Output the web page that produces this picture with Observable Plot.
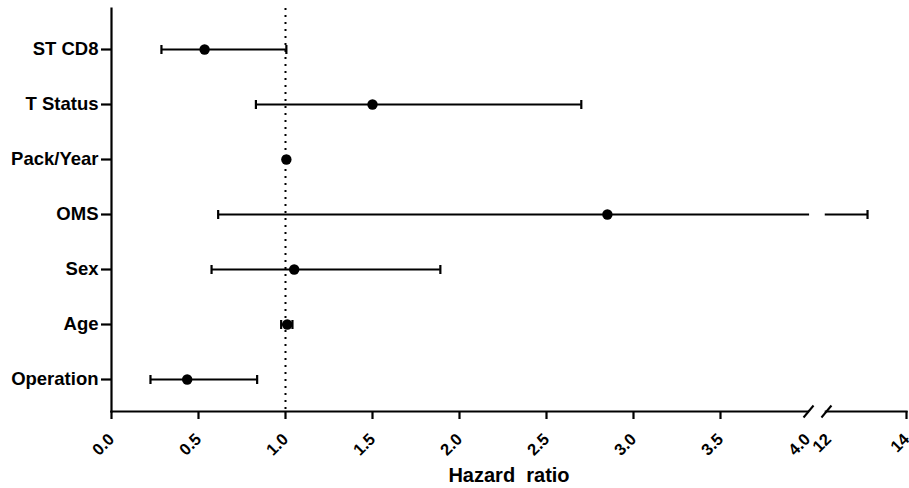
<!DOCTYPE html>
<html><head><meta charset="utf-8">
<script src="https://cdn.jsdelivr.net/npm/d3@7"></script>
<script src="https://cdn.jsdelivr.net/npm/@observablehq/plot@0.6"></script>
<style>
body{margin:0;background:#fff;}
#chart svg{font-family:"Liberation Sans",Arial,sans-serif;font-weight:bold;}
</style>
</head><body><div id="chart"></div>
<script>
// ---- data ----
const variables   = ["ST CD8", "T Status", "Pack/Year", "OMS", "Sex", "Age", "Operation"];
const hazardRatio = [0.535, 1.50, 1.005, 2.85, 1.05, 1.01, 0.435];
const ciLower     = [0.287, 0.83, 0.995, 0.613, 0.575, 0.975, 0.224];
const ciUpper     = [1.005, 2.70, 1.015, 13.0, 1.89, 1.04, 0.837];
const tickValues  = [0, 0.5, 1, 1.5, 2, 2.5, 3, 3.5, 4, 12, 14];
const tickLabels  = ["0.0", "0.5", "1.0", "1.5", "2.0", "2.5", "3.0", "3.5", "4.0", "12", "14"];
const tickMarked  = [0, 0.5, 1, 1.5, 2, 2.5, 3, 3.5, 14];
const referenceHR = [1];
const axisTitle   = "Hazard\u00a0 ratio";

// ---- broken axis: 0–4 linear, then 12–14 compressed ----
const breakLow = 4, breakHigh = 12;
const resumeAt = 4.121, upperUnit = 0.224;          // axis units of the upper segment
const gapFrom = 4.012, gapTo = 4.102;               // blank gap of the break
const slashAt = [4.006, 4.109];                     // break marks
const toAxis = v => v <= breakLow + 1 ? v : resumeAt + (v - breakHigh) * upperUnit;
const axisMax = toAxis(14);

const rows = variables.map((name, i) => ({
  name, hr: toAxis(hazardRatio[i]), lo: toAxis(ciLower[i]), hi: toAxis(ciUpper[i])
}));
const tickPos = tickValues.map(toAxis);
const fmt = d => tickLabels[tickPos.findIndex(t => Math.abs(t - d) < 1e-9)];

const capSymbol = {draw(ctx) { ctx.moveTo(0, -4.5); ctx.lineTo(0, 4.5); }};
const slashSymbol = {draw(ctx) { ctx.moveTo(-5, 6); ctx.lineTo(5, -6); }};

const chart = Plot.plot({
  width: 909, height: 488,
  marginLeft: 111, marginRight: 3, marginTop: 8, marginBottom: 77,
  x: {type: "linear", domain: [0, axisMax], axis: null},
  y: {type: "point", domain: variables, padding: 0.614, align: 0.566, axis: null},
  marks: [
    Plot.ruleX(referenceHR, {x: d => toAxis(d), stroke: "#000", strokeWidth: 2, strokeDasharray: "2,5"}),
    Plot.frame({anchor: "left", stroke: "#000", strokeWidth: 2.2}),
    Plot.frame({anchor: "bottom", stroke: "#000", strokeWidth: 2.2}),
    Plot.ruleY(rows, {y: "name", x1: "lo", x2: "hi", stroke: "#000", strokeWidth: 2.2}),
    Plot.dot(rows, {x: "lo", y: "name", symbol: capSymbol, stroke: "#000", strokeWidth: 2.2}),
    Plot.dot(rows, {x: "hi", y: "name", symbol: capSymbol, stroke: "#000", strokeWidth: 2.2}),
    Plot.dot(rows, {x: "hr", y: "name", r: 5.2, fill: "#000"}),
    Plot.rect([0], {x1: gapFrom, x2: gapTo, fill: "#fff", insetTop: 0, insetBottom: -3}),
    Plot.dot(slashAt, {x: d => d, frameAnchor: "bottom", symbol: slashSymbol, stroke: "#000", strokeWidth: 2}),
    Plot.axisY({tickSize: 10, tickPadding: 3, fontSize: 18.5, fontWeight: "bold", strokeWidth: 2.2, stroke: "#000", label: null}),
    Plot.axisX({ticks: tickMarked.map(toAxis), tickSize: 8, tickFormat: () => "", strokeWidth: 2.2, stroke: "#000", label: null}),
    Plot.axisX({ticks: tickPos, tickSize: 0, tickPadding: 25, tickRotate: -45, tickFormat: fmt, fontSize: 16.5, fontWeight: "bold", label: null}),
    Plot.text([axisTitle], {text: d => d, frameAnchor: "bottom", dy: 70, fontSize: 20, fontWeight: "bold", fill: "#000"})
  ]
});
document.getElementById("chart").appendChild(chart);
</script>
</body></html>
